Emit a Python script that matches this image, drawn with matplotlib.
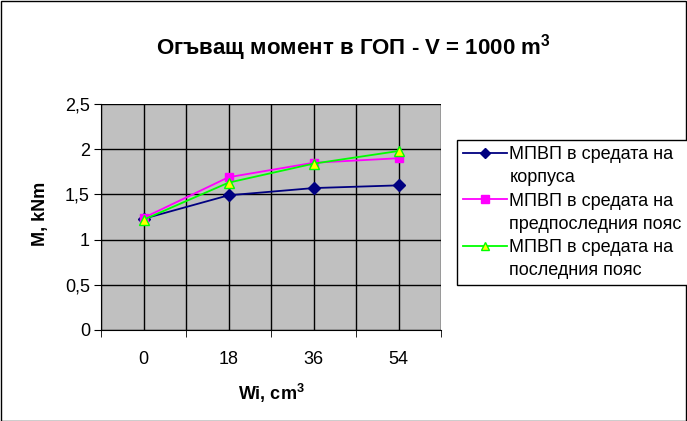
import matplotlib
matplotlib.use("Agg")
import matplotlib.pyplot as plt
from matplotlib.patches import Rectangle
from matplotlib.lines import Line2D

categories = ["0", "18", "36", "54"]
s_korpus = [1.23, 1.49, 1.57, 1.60]
s_predposl = [1.24, 1.69, 1.85, 1.90]
s_posl = [1.22, 1.63, 1.84, 1.98]
labels = [("МПВП в средата на", "корпуса"),
          ("МПВП в средата на", "предпоследния пояс"),
          ("МПВП в средата на", "последния пояс")]
yticks = [0, 0.5, 1, 1.5, 2, 2.5]
ytick_labels = ["0", "0,5", "1", "1,5", "2", "2,5"]

plt.rcParams['font.family'] = ['Liberation Sans', 'DejaVu Sans']
plt.rcParams['mathtext.fontset'] = 'custom'
plt.rcParams['mathtext.rm'] = 'Liberation Sans'
plt.rcParams['mathtext.bf'] = 'Liberation Sans:bold'

W, H = 687, 421
fig = plt.figure(figsize=(W/100, H/100), dpi=100)
fig.patch.set_facecolor("white")
fig.add_artist(Rectangle((0.5/W, 0.5/H), 1-1.5/W, 1-1.5/H, transform=fig.transFigure,
                         fill=False, edgecolor="black", linewidth=1))

x0, x1 = 101, 441
y0, y1 = 104, 330
ax = fig.add_axes([x0/W, 1-y1/H, (x1-x0)/W, (y1-y0)/H])
ax.set_facecolor("#c0c0c0")
xs = list(range(len(categories)))
ax.set_xlim(-0.5, len(categories)-0.5)
ax.set_ylim(0, 2.5)

# gridlines
for v in yticks:
    ax.axhline(v, color="black", linewidth=1, zorder=1)
for i in range(len(categories)+1):
    ax.axvline(i-0.5, color="black", linewidth=1, zorder=1)
for i in xs:
    ax.axvline(i, color="black", linewidth=1, zorder=1)

h1, = ax.plot(xs, s_korpus, color="#000080", marker="D", markersize=6, linewidth=1.3,
              markerfacecolor="#000080", markeredgecolor="#000080", zorder=3)
h2, = ax.plot(xs, s_predposl, color="#ff00ff", marker="s", markersize=6, linewidth=1.3,
              markerfacecolor="#ff00ff", markeredgecolor="#ff00ff", zorder=3)
h3, = ax.plot(xs, s_posl, color="#00ff00", marker="^", markersize=7, linewidth=1.3,
              markerfacecolor="#ffff00", markeredgecolor="#00ff00", zorder=4)

ax.set_yticks(yticks)
ax.set_yticklabels(ytick_labels, fontsize=13)
ax.set_xticks(xs)
ax.set_xticklabels(categories, fontsize=13)
ax.tick_params(axis="x", length=0, pad=15)
ax.set_xticks([i-0.5 for i in range(len(categories)+1)], minor=True)
ax.tick_params(axis="x", which="minor", length=5, color="black")
ax.tick_params(axis="y", length=5, pad=3)
for s in ["top", "right"]:
    ax.spines[s].set_visible(False)
ax.spines["left"].set_color("black")
ax.spines["bottom"].set_color("black")

fig.text(353/W, 1-48/H, "Огъващ момент в ГОП - V = 1000 m$^{\\mathbf{3}}$", ha="center", va="center",
         fontsize=16, fontweight="bold")
fig.text(271/W, 1-393/H, "Wi, cm$^{\\mathbf{3}}$", ha="center", va="center",
         fontsize=13, fontweight="bold")
fig.text(41/W, 1-214/H, "M, kNm", ha="center", va="center", rotation=90,
         fontsize=13, fontweight="bold")

blank = Line2D([], [], color="none")
handles, texts = [], []
for h, (l1, l2) in zip([h1, h2, h3], labels):
    handles += [h, blank]
    texts += [l1, l2]

leg = fig.legend(handles, texts, loc="upper left", bbox_to_anchor=(457/W, 1-140/H), fontsize=13,
                 frameon=True, fancybox=False, edgecolor="black", framealpha=1,
                 handlelength=2.4, handletextpad=0.15, borderpad=0.35, labelspacing=0.34,
                 borderaxespad=0, markerscale=0.85)
leg.get_frame().set_linewidth(1)

fig.savefig("out.png", dpi=100)
